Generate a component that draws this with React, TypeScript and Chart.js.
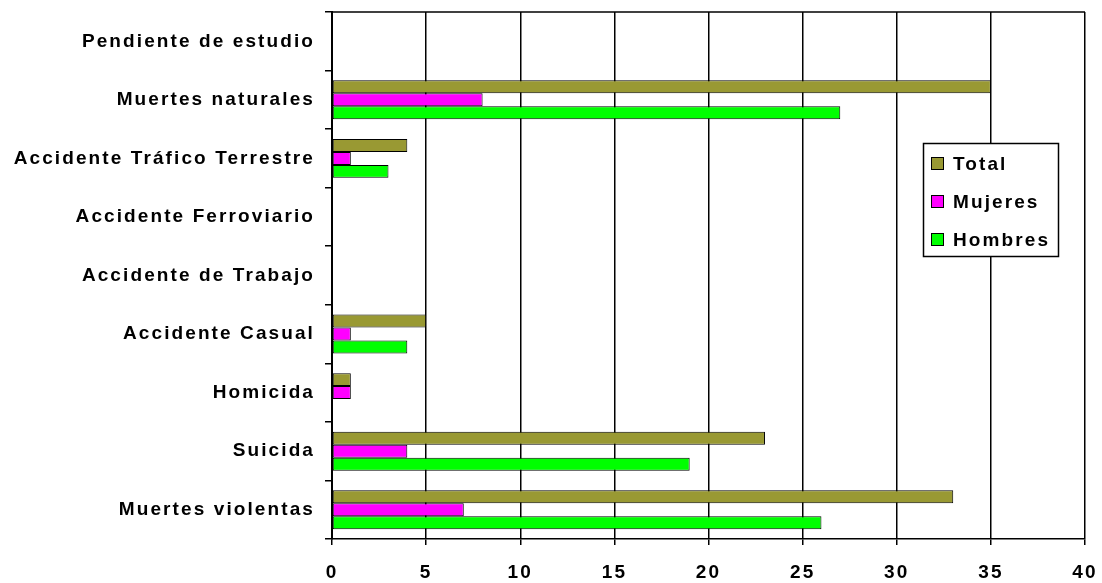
import React, { useEffect, useRef } from 'react';
import { Chart, registerables } from 'chart.js';

Chart.register(...registerables);

const categories = [
  'Pendiente de estudio',
  'Muertes naturales',
  'Accidente Tráfico Terrestre',
  'Accidente Ferroviario',
  'Accidente de Trabajo',
  'Accidente Casual',
  'Homicida',
  'Suicida',
  'Muertes violentas',
];
const totalValues = [0, 35, 4, 0, 0, 5, 1, 23, 33];
const mujeresValues = [0, 8, 1, 0, 0, 1, 1, 4, 7];
const hombresValues = [0, 27, 3, 0, 0, 4, 0, 19, 26];
const seriesNames = ['Total', 'Mujeres', 'Hombres'];
const seriesColors = ['#999933', '#FF00FF', '#00FF00'];
const xMin = 0;
const xMax = 40;
const xStep = 5;

const FONT_FAMILY = '"Liberation Sans", Arial, Helvetica, sans-serif';
const FONT_SIZE = 19;
const SPACING = '2.1px';

const spacingPlugin = {
  id: 'letterSpacing',
  beforeInit(chart: any) { (chart.ctx as any).letterSpacing = SPACING; },
  beforeUpdate(chart: any) { (chart.ctx as any).letterSpacing = SPACING; },
  beforeLayout(chart: any) { (chart.ctx as any).letterSpacing = SPACING; },
  beforeDraw(chart: any) { (chart.ctx as any).letterSpacing = SPACING; },
};

const frameLegendPlugin = {
  id: 'frameLegend',
  afterDraw(chart: any) {
    const ctx = chart.ctx;
    const { left, right, top } = chart.chartArea;
    ctx.save();
    (ctx as any).letterSpacing = SPACING;
    // top frame line
    ctx.strokeStyle = '#000';
    ctx.lineWidth = 1.5;
    ctx.beginPath();
    ctx.moveTo(left, top);
    ctx.lineTo(right, top);
    ctx.stroke();
    // legend box
    const bx = 923.5, by = 143.5, bw = 135, bh = 113;
    ctx.fillStyle = '#fff';
    ctx.fillRect(bx, by, bw, bh);
    ctx.lineWidth = 1.5;
    ctx.strokeRect(bx, by, bw, bh);
    ctx.font = `bold ${FONT_SIZE}px ${FONT_FAMILY}`;
    ctx.textBaseline = 'middle';
    ctx.textAlign = 'left';
    chart.data.datasets.forEach((ds: any, i: number) => {
      const cy = 163.5 + i * 38;
      ctx.fillStyle = ds.backgroundColor;
      ctx.fillRect(931.5, cy - 6, 12, 12);
      ctx.lineWidth = 1;
      ctx.strokeStyle = '#000';
      ctx.strokeRect(931.5, cy - 6, 12, 12);
      ctx.fillStyle = '#000';
      ctx.fillText(ds.label, 953, cy + 1);
    });
    ctx.restore();
  },
};

export default function App() {
  const canvasRef = useRef<HTMLCanvasElement>(null);

  useEffect(() => {
    if (!canvasRef.current) return;
    const tickFont = { family: FONT_FAMILY, size: FONT_SIZE, weight: 'bold' as const };
    const valueSets = [totalValues, mujeresValues, hombresValues];
    const chart = new Chart(canvasRef.current, {
      type: 'bar',
      data: {
        labels: categories,
        datasets: seriesNames.map((name, i) => ({
          label: name,
          data: valueSets[i],
          backgroundColor: seriesColors[i],
          borderColor: '#000',
          borderWidth: 1,
          borderSkipped: false,
          categoryPercentage: 0.665,
          barPercentage: 1.0,
        })),
      },
      options: {
        indexAxis: 'y',
        animation: false,
        responsive: false,
        layout: { padding: { top: 12, right: 17, left: 0, bottom: 0 } },
        plugins: {
          legend: { display: false },
          tooltip: { enabled: false },
        },
        scales: {
          x: {
            min: xMin,
            max: xMax,
            ticks: { stepSize: xStep, color: '#000', font: tickFont, padding: 16 },
            grid: { color: '#000', lineWidth: 1.5, tickLength: 6, drawTicks: true },
            border: { display: true, color: '#000', width: 1.5 },
            afterFit(scale: any) {
              scale.height = 44;
              scale.paddingLeft = 0;
              scale.paddingRight = 0;
            },
          },
          y: {
            ticks: { color: '#000', font: tickFont, padding: 10 },
            grid: {
              color: '#000',
              lineWidth: 1.5,
              drawOnChartArea: false,
              drawTicks: true,
              tickLength: 7,
              offset: true,
            },
            border: { display: true, color: '#000', width: 2 },
            afterFit(scale: any) {
              scale.width = 332;
              scale.paddingTop = 0;
              scale.paddingBottom = 0;
            },
          },
        },
      },
      plugins: [spacingPlugin, frameLegendPlugin],
    });
    return () => chart.destroy();
  }, []);

  return (
    <div style={{ position: 'absolute', left: 0, top: 0, width: 1102, height: 583, background: '#fff' }}>
      <canvas ref={canvasRef} width={1102} height={583} style={{ display: 'block', width: 1102, height: 583 }} />
    </div>
  );
}
